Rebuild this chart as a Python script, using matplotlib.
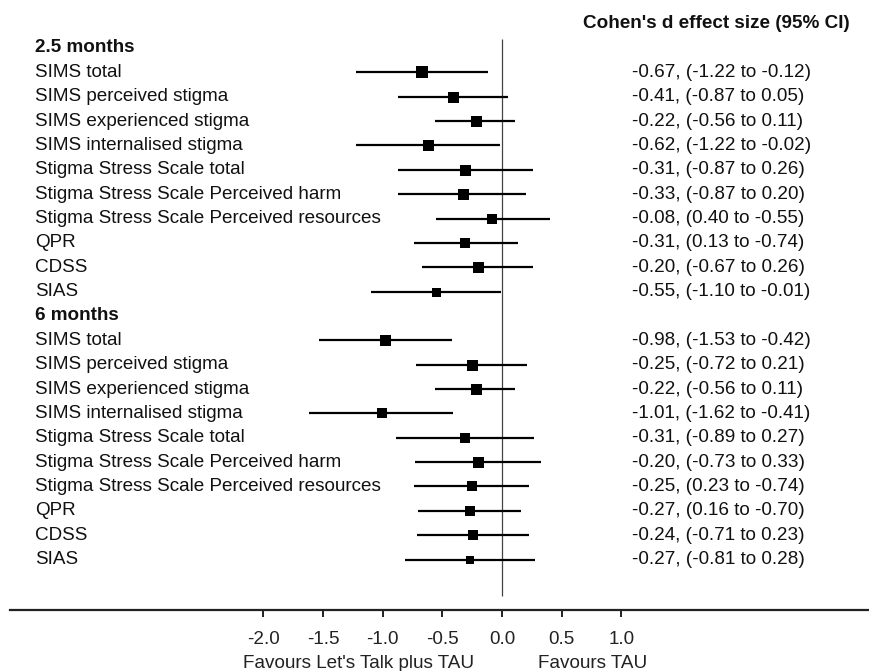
import matplotlib
matplotlib.use("Agg")
import matplotlib.pyplot as plt

plt.rcParams['font.family'] = ['Liberation Sans', 'DejaVu Sans']
plt.rcParams['axes.unicode_minus'] = False

##data
groups = ["2.5 months", "6 months"]
outcomes = ["SIMS total", "SIMS perceived stigma", "SIMS experienced stigma",
            "SIMS internalised stigma", "Stigma Stress Scale total",
            "Stigma Stress Scale Perceived harm",
            "Stigma Stress Scale Perceived resources", "QPR", "CDSS", "SIAS"]

est_25 = [-0.67, -0.41, -0.22, -0.62, -0.31, -0.33, -0.08, -0.31, -0.20, -0.55]
lo_25 = [-1.22, -0.87, -0.56, -1.22, -0.87, -0.87, 0.40, 0.13, -0.67, -1.10]
hi_25 = [-0.12, 0.05, 0.11, -0.02, 0.26, 0.20, -0.55, -0.74, 0.26, -0.01]
box_25 = [12, 11, 11, 11, 11, 11, 10, 10, 11, 9]

est_6 = [-0.98, -0.25, -0.22, -1.01, -0.31, -0.20, -0.25, -0.27, -0.24, -0.27]
lo_6 = [-1.53, -0.72, -0.56, -1.62, -0.89, -0.73, 0.23, 0.16, -0.71, -0.81]
hi_6 = [-0.42, 0.21, 0.11, -0.41, 0.27, 0.33, -0.74, -0.70, 0.23, 0.28]
box_6 = [11, 11, 11, 10, 10, 11, 10, 10, 10, 8]

xticks = [-2.0, -1.5, -1.0, -0.5, 0.0, 0.5, 1.0]

W, H = 870, 671
fig = plt.figure(figsize=(W / 100, H / 100), dpi=100)
# axes from the top of the figure down to the axis line at y=610px
ax = fig.add_axes([10 / W, (H - 610) / H, 860 / W, 610 / H])
px = 119.3  # pixels per unit
ax.set_xlim((10 - 502) / px, (870 - 502) / px)
row_h = 24.36
ax.set_ylim((610 - 48) / row_h, -48 / row_h)

for s in ['left', 'top', 'right']:
    ax.spines[s].set_visible(False)
ax.spines['bottom'].set_linewidth(1.6)
ax.spines['bottom'].set_color('#222222')
ax.set_yticks([])
ax.set_xticks(xticks)
ax.set_xticklabels(["%.1f" % t for t in xticks])
ax.tick_params(axis='x', direction='out', length=5, width=1.4, pad=10,
               labelsize=13.6, colors='#222222')

xlab = (35 - 502) / px
xval = (632 - 502) / px
fs = 13.6

ax.vlines(0, -0.35, 22.5, color='#444444', lw=0.9)

row = 0
for g, est, lo, hi, box in [(groups[0], est_25, lo_25, hi_25, box_25),
                            (groups[1], est_6, lo_6, hi_6, box_6)]:
    ax.text(xlab, row, g, fontsize=fs, fontweight='bold', va='center', color='#111111')
    row += 1
    for name, e, l, h, b in zip(outcomes, est, lo, hi, box):
        ax.text(xlab, row, name, fontsize=fs, va='center', color='#111111')
        ax.plot([min(l, h), max(l, h)], [row, row], color='black', lw=1.6,
                solid_capstyle='butt')
        ax.plot(e, row, marker='s', color='black', markersize=b * 0.72, mew=0)
        ax.text(xval, row, "%.2f, (%.2f to %.2f)" % (e, l, h), fontsize=fs,
                va='center', color='#111111')
        row += 1

ax.text((583 - 502) / px, -1.0, "Cohen's d effect size (95% CI)", fontsize=13.6,
        fontweight='bold', va='center', color='#111111')

fig.text(359 / W, 1 - 663 / H, "Favours Let's Talk plus TAU", fontsize=fs,
         ha='center', va='center', color='#222222')
fig.text(593 / W, 1 - 663 / H, "Favours TAU", fontsize=fs,
         ha='center', va='center', color='#222222')

fig.savefig("out.png", dpi=100)
